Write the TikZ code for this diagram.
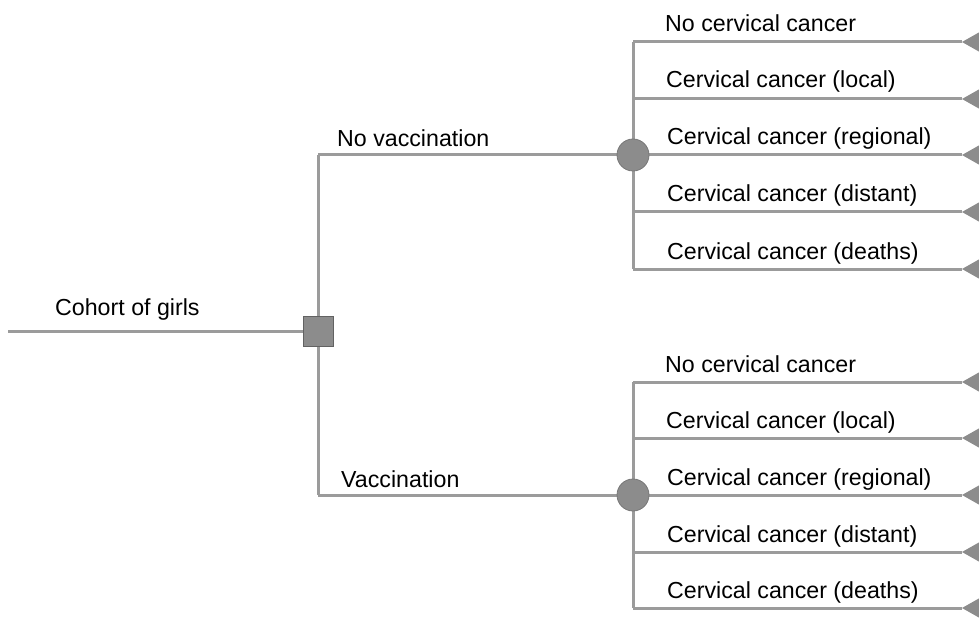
\documentclass[tikz,border=0pt]{standalone}
\usepackage{fontspec}
\setmainfont{Liberation Sans}
\definecolor{linegray}{RGB}{155,155,155}
\definecolor{nodegray}{RGB}{140,140,140}
\begin{document}
\begin{tikzpicture}[x=1pt,y=-1pt,
  ln/.style={draw=linegray,line width=3pt},
  chance/.style={circle,fill=nodegray,draw=nodegray!85!black,line width=0.8pt,minimum size=32pt,inner sep=0pt},
  decision/.style={rectangle,fill=nodegray,draw=nodegray!70!black,line width=0.8pt,minimum size=30pt,inner sep=0pt},
  lbl/.style={font=\fontsize{23.2}{27}\selectfont,anchor=base west,inner sep=0pt},
  term/.style={fill=nodegray,draw=none}]
\useasboundingbox (0,0) rectangle (979,620);
\clip (0,0) rectangle (979,620);

% coordinates
\coordinate (start) at (8,331);
\coordinate (dtop) at (318,155);
\coordinate (dbot) at (318,495);
\coordinate (c1top) at (633,42);
\coordinate (c1bot) at (633,269);
\coordinate (c2top) at (633,382);
\coordinate (c2bot) at (633,608);
\foreach \i/\y in {1/42,2/99,3/155,4/212,5/269}{\coordinate (e1\i) at (962,\y);\coordinate (b1\i) at (633,\y);}
\foreach \i/\y in {1/382,2/438,3/495,4/552,5/608}{\coordinate (e2\i) at (962,\y);\coordinate (b2\i) at (633,\y);}

% lines
\draw[ln] (start) -- (318,331);
\draw[ln] (dtop) -- (dbot);
\draw[ln] (dtop) -- (633,155);
\draw[ln] (dbot) -- (633,495);
\draw[ln] (c1top) -- (c1bot);
\draw[ln] (c2top) -- (c2bot);
\foreach \i in {1,...,5}{\draw[ln] (b1\i) -- (e1\i); \draw[ln] (b2\i) -- (e2\i);}

% terminal triangles
\foreach \i in {1,...,5}{
  \fill[term] (e1\i) -- ++(23,-13) -- ++(0,26) -- cycle;
  \fill[term] (e2\i) -- ++(23,-13) -- ++(0,26) -- cycle;
}

% nodes
\node[decision] (dec) at (318,331) {};
\node[chance] (ch1) at (633,155) {};
\node[chance] (ch2) at (633,495) {};

% labels
\node[lbl] (lcoh) at (55,315) {Cohort of girls};
\node[lbl] (lnov) at (337,147) {No vaccination};
\node[lbl] (lvac) at (341,487) {Vaccination};

\node[lbl] (a1) at (665,32) {No cervical cancer};
\node[lbl] (a2) at (666,88) {Cervical cancer (local)};
\node[lbl] (a3) at (667,145) {Cervical cancer (regional)};
\node[lbl] (a4) at (667,202) {Cervical cancer (distant)};
\node[lbl] (a5) at (667,259) {Cervical cancer (deaths)};

\node[lbl] (b1) at (665,372) {No cervical cancer};
\node[lbl] (b2) at (666,428) {Cervical cancer (local)};
\node[lbl] (b3) at (667,485) {Cervical cancer (regional)};
\node[lbl] (b4) at (667,542) {Cervical cancer (distant)};
\node[lbl] (b5) at (667,598) {Cervical cancer (deaths)};
\end{tikzpicture}
\end{document}
